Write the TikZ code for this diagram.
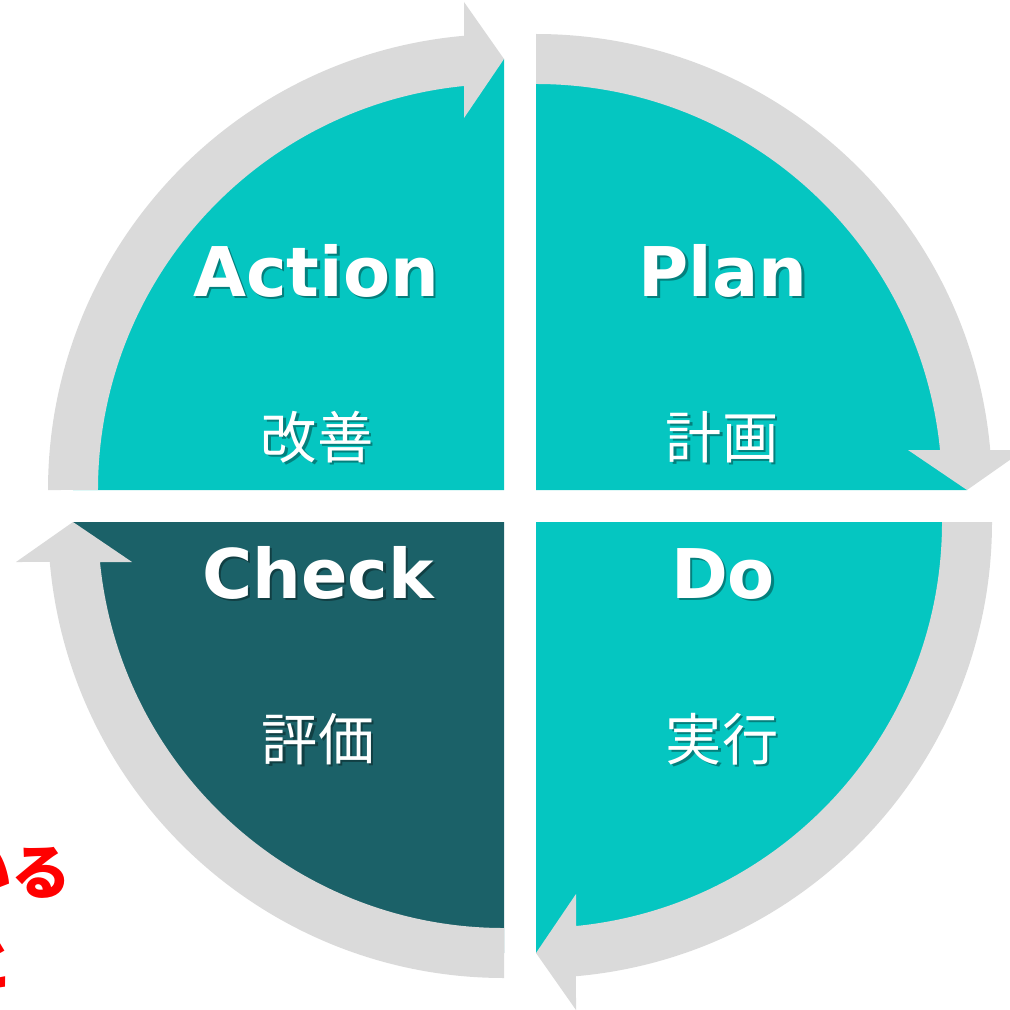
\documentclass[tikz,border=0pt]{standalone}
\usepackage{fontspec}
\setmainfont{DejaVu Sans}
\newfontfamily\jpfont{Noto Sans CJK JP}
\definecolor{tealA}{HTML}{05C6C1}
\definecolor{tealD}{HTML}{1B6168}
\definecolor{bandgrey}{HTML}{DADADA}
\definecolor{redtext}{HTML}{FF0000}
\tikzset{
  bandshape/.style={fill=bandgrey},
  titletxt/.style={font=\fontsize{39}{39}\selectfont\bfseries, inner sep=0pt, anchor=base},
  subtxt/.style={font=\jpfont\fontsize{32}{32}\selectfont, inner sep=0pt, anchor=base},
  fronttxt/.style={text=white},
  shadowtxt/.style={text=black, text opacity=0.35},
  redtxt/.style={font=\jpfont\bfseries\fontsize{34}{34}\selectfont, text=redtext, inner sep=0pt, anchor=base east}
}
\newcommand\pdcaquad[3]{%
  \begin{scope}[shift={#1}, rotate=#2]
    \fill[#3] (0,0) -- (431,0) arc[start angle=0, end angle=90, radius=431] -- cycle;
    \fill[bandshape] (0,456) arc[start angle=90, end angle=5.03, radius=456]
      -- (488,40) -- (431,0) -- (372,40) -- (404.02,40)
      arc[start angle=5.654, end angle=90, radius=406] -- cycle;
  \end{scope}}
\newcommand\pdcalabel[5]{% name, style, x, y, text
  \node[#2, shadowtxt] (#1-s) at (#3+2.5,#4-2.5) {#5};
  \node[#2, fronttxt] (#1) at (#3,#4) {#5};}
\begin{document}
\begin{tikzpicture}[x=0.02cm, y=0.02cm]
  \useasboundingbox (0,0) rectangle (1010,1009);
  % quadrants: corner, rotation, colour
  \pdcaquad{(536,519)}{0}{tealA}
  \pdcaquad{(536,487)}{-90}{tealA}
  \pdcaquad{(504,487)}{-180}{tealD}
  \pdcaquad{(504,519)}{90}{tealA}
  % titles
  \pdcalabel{action}{titletxt}{316}{713}{Action}
  \pdcalabel{plan}{titletxt}{723}{713}{Plan}
  \pdcalabel{check}{titletxt}{318}{411}{Check}
  \pdcalabel{do}{titletxt}{723}{411}{Do}
  % Japanese subtitles
  \pdcalabel{kaizen}{subtxt}{317}{551}{改善}
  \pdcalabel{keikaku}{subtxt}{722}{551}{計画}
  \pdcalabel{hyoka}{subtxt}{318}{249}{評価}
  \pdcalabel{jikko}{subtxt}{722}{249}{実行}
  % red text cut off at the left edge
  \node[redtxt] (redA) at (72,115) {いる};
  \node[redtxt] (redB) at (15,24) {と};
\end{tikzpicture}
\end{document}
